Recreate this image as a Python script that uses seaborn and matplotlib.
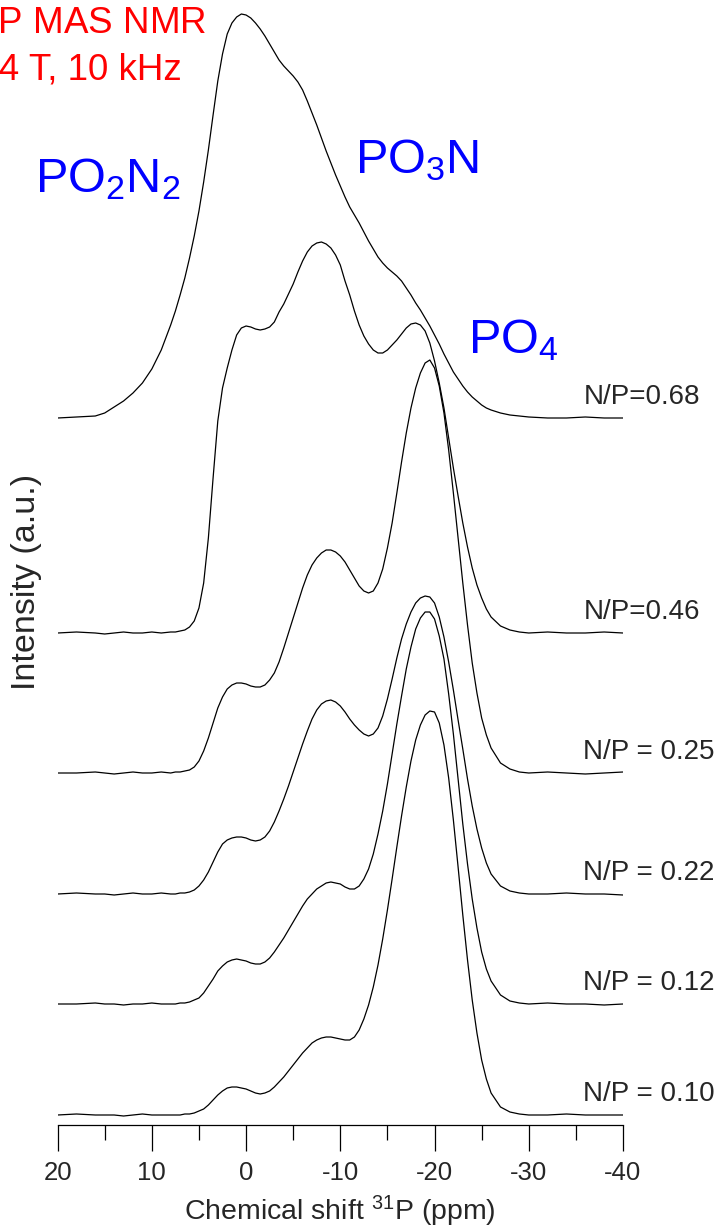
import numpy as np
import pandas as pd
import matplotlib
matplotlib.use("Agg")
import matplotlib.pyplot as plt
import seaborn as sns
from matplotlib.ticker import MultipleLocator

# chemical shift sampling (ppm): coarse on flat baseline, 0.5 ppm across the signals
ppm = ([20, 18, 16, 15, 14, 13, 12, 11, 10, 9, 8]
       + [7.5, 7, 6.5, 6, 5.5, 5, 4.5, 4, 3.5, 3]
       + [2.5, 2, 1.5, 1, 0.5, 0, -0.5, -1, -1.5, -2]
       + [-2.5, -3, -3.5, -4, -4.5, -5, -5.5, -6, -6.5, -7]
       + [-7.5, -8, -8.5, -9, -9.5, -10, -10.5, -11, -11.5, -12]
       + [-12.5, -13, -13.5, -14, -14.5, -15, -15.5, -16, -16.5, -17]
       + [-17.5, -18, -18.5, -19, -19.5, -20, -20.5, -21, -21.5, -22]
       + [-22.5, -23, -23.5, -24, -24.5, -25, -25.5, -26]
       + [-27, -28, -29, -30, -32, -34, -36, -38, -40])

# intensities (arbitrary units)
np_068 = ([0, 1, 2, 5, 11, 17, 25, 35, 49, 68, 93]
          + [107, 123, 140, 160, 182, 207, 236, 268, 303, 337]
          + [364, 384, 395, 401, 404, 403, 400, 395, 389, 382]
          + [374, 366, 358, 352, 347, 342, 336, 328, 317, 305]
          + [293, 280, 267, 255, 243, 232, 221, 211, 203, 195]
          + [186, 177, 169, 161, 155, 150, 146, 142, 137, 130]
          + [123, 115, 108, 100, 92, 83, 74, 64, 55, 46]
          + [39, 32, 26, 21, 17, 13, 10, 8]
          + [5, 3, 2, 1, 0, 0, 1, 0, 0])
np_046 = ([0, 1, 0, -1, 0, 1, 0, 0, 1, 0, 1]
          + [1, 2, 3, 6, 12, 25, 50, 95, 155, 212]
          + [245, 265, 283, 298, 305, 307, 306, 304, 303, 304]
          + [306, 311, 321, 329, 339, 349, 361, 372, 381, 387]
          + [390, 391, 389, 385, 378, 368, 352, 338, 322, 308]
          + [297, 289, 283, 280, 280, 283, 288, 293, 299, 305]
          + [309, 310, 308, 302, 290, 272, 250, 225, 195, 165]
          + [137, 110, 86, 65, 48, 35, 24, 16]
          + [7, 3, 1, 0, 1, 0, 0, 1, 0])
np_025 = ([0, 0, 1, 0, -1, 0, 1, 0, 0, 1, 0]
          + [1, 1, 2, 3, 6, 12, 22, 35, 50, 65]
          + [76, 84, 88, 90, 90, 89, 87, 86, 86, 88]
          + [93, 100, 111, 125, 140, 155, 170, 185, 198, 208]
          + [215, 220, 223, 223, 221, 217, 211, 203, 195, 187]
          + [182, 180, 182, 190, 204, 225, 250, 280, 311, 340]
          + [365, 385, 400, 410, 413, 405, 387, 360, 323, 280]
          + [235, 190, 148, 110, 80, 55, 38, 25]
          + [10, 4, 1, 0, 1, 0, -1, 0, 1])
np_022 = ([0, 1, 0, 0, -1, 0, 1, 0, 0, 1, 0]
          + [0, 1, 1, 2, 4, 8, 14, 22, 32, 42]
          + [50, 54, 56, 57, 57, 56, 54, 53, 54, 57]
          + [63, 72, 83, 95, 108, 122, 136, 150, 163, 175]
          + [184, 190, 193, 194, 192, 188, 182, 175, 169, 164]
          + [160, 158, 160, 166, 178, 195, 215, 236, 255, 270]
          + [282, 291, 296, 298, 297, 291, 277, 257, 232, 204]
          + [174, 145, 115, 88, 65, 46, 31, 20]
          + [8, 3, 1, 0, 0, 1, 0, 0, -1])
np_012 = ([0, 0, 1, 0, 0, -1, 0, 0, 1, 0, 0]
          + [0, 1, 1, 2, 4, 6, 11, 18, 25, 33]
          + [38, 42, 44, 45, 44, 43, 41, 40, 40, 42]
          + [46, 52, 59, 66, 74, 82, 90, 98, 105, 110]
          + [115, 118, 121, 122, 121, 120, 117, 115, 115, 118]
          + [125, 135, 150, 170, 193, 220, 250, 280, 308, 335]
          + [357, 375, 386, 392, 392, 385, 368, 345, 310, 270]
          + [225, 180, 140, 105, 76, 52, 35, 23]
          + [9, 3, 1, 0, 1, 0, 0, -1, 0])
np_010 = ([0, 1, 0, 0, 0, -1, 0, 1, 0, 0, 0]
          + [0, 0, 1, 1, 2, 4, 6, 10, 15, 20]
          + [24, 27, 28, 28, 27, 26, 24, 22, 21, 22]
          + [24, 28, 33, 38, 44, 50, 56, 62, 67, 72]
          + [75, 77, 78, 78, 77, 76, 75, 75, 78, 85]
          + [96, 110, 128, 150, 176, 205, 236, 268, 299, 328]
          + [354, 375, 390, 400, 404, 403, 392, 370, 337, 295]
          + [248, 200, 155, 115, 82, 55, 36, 22]
          + [8, 3, 1, 0, 0, 1, 0, 0, 0])

sample_labels = ["N/P=0.68", "N/P=0.46", "N/P = 0.25", "N/P = 0.22", "N/P = 0.12", "N/P = 0.10"]
spectra = [np_068, np_046, np_025, np_022, np_012, np_010]
stack_offsets = [707, 492, 352, 231, 121, 10]

frames = []
for lab, spec, off in zip(sample_labels, spectra, stack_offsets):
    frames.append(pd.DataFrame({"ppm": ppm, "y": np.asarray(spec, float) + off, "sample": lab}))
df = pd.concat(frames, ignore_index=True)

sns.set_theme(style="white")
plt.rcParams["font.family"] = ["Liberation Sans", "DejaVu Sans"]
plt.rcParams["mathtext.fontset"] = "custom"
plt.rcParams["mathtext.rm"] = "Liberation Sans"
plt.rcParams["mathtext.it"] = "Liberation Sans:italic"
plt.rcParams["mathtext.default"] = "regular"
plt.rcParams["axes.unicode_minus"] = False

W, H = 722, 1228
fig = plt.figure(figsize=(W / 100, H / 100), dpi=100)
ax = fig.add_axes([57.6 / W, (H - 1125) / H, (623 - 57.6) / W, 1125 / H])

sns.lineplot(data=df, x="ppm", y="y", units="sample", estimator=None, color="black",
             linewidth=0.9, ax=ax, legend=False)

ax.set_xlim(20, -40)
ax.set_ylim(0, 1125)
for s in ["left", "top", "right"]:
    ax.spines[s].set_visible(False)
ax.spines["bottom"].set_color("black")
ax.spines["bottom"].set_linewidth(0.9)
ax.set_yticks([])
ax.xaxis.set_major_locator(MultipleLocator(10))
ax.xaxis.set_minor_locator(MultipleLocator(5))
ax.tick_params(axis="x", which="major", direction="out", length=19, width=0.9, color="black",
               labelsize=18.5, pad=7, bottom=True)
ax.tick_params(axis="x", which="minor", direction="out", length=11, width=0.9, color="black",
               bottom=True)
ax.set_xlabel("Chemical shift $^{31}$P (ppm)", fontsize=20.5, labelpad=6)
ax.set_ylabel("")
fig.text(27 / W, 1 - 582 / H, "Intensity (a.u.)", rotation=90, fontsize=24.5,
         ha="center", va="center")

for lab, off in zip(sample_labels, stack_offsets):
    ax.text(-35.8, off + 14, lab, fontsize=20, ha="left", va="baseline", clip_on=False)

fig.text(206 / W, 1 - 34 / H, "$^{31}$P MAS NMR", color="red", fontsize=26.5,
         ha="right", va="baseline")
fig.text(182 / W, 1 - 80 / H, "9.4 T, 10 kHz", color="red", fontsize=26.5,
         ha="right", va="baseline")
fig.text(35 / W, 1 - 192 / H, "PO$_2$N$_2$", color="blue", fontsize=35, ha="left", va="baseline")
fig.text(355 / W, 1 - 173 / H, "PO$_3$N", color="blue", fontsize=35, ha="left", va="baseline")
fig.text(468 / W, 1 - 353 / H, "PO$_4$", color="blue", fontsize=35, ha="left", va="baseline")

fig.savefig("out.png", dpi=100, facecolor="white")
